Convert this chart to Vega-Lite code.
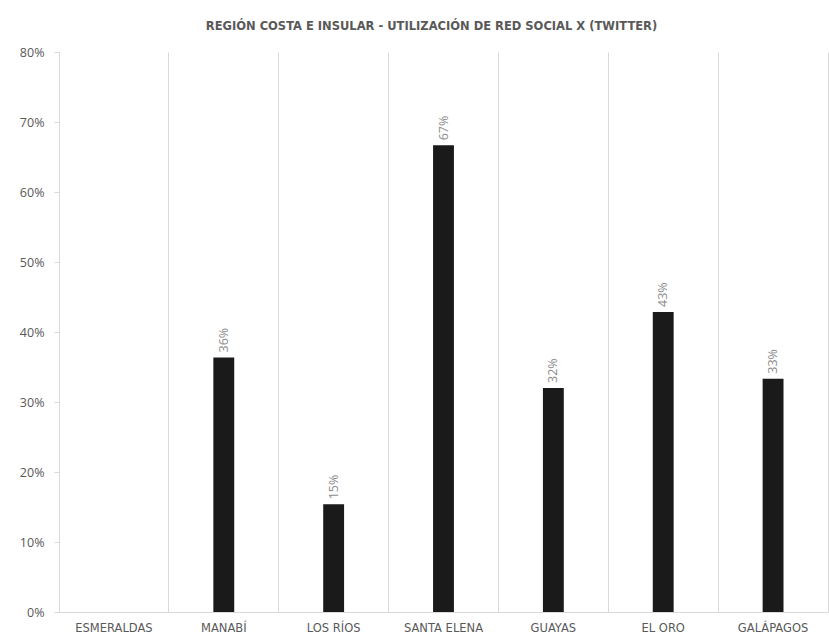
{
  "$schema": "https://vega.github.io/schema/vega-lite/v6.json",
  "autosize": "none",
  "width": 769,
  "height": 560,
  "padding": {"left": 59, "top": 52, "right": 1, "bottom": 27},
  "background": "white",
  "title": {
    "text": "REGIÓN COSTA E INSULAR - UTILIZACIÓN DE RED SOCIAL X (TWITTER)",
    "font": "DejaVu Sans",
    "fontSize": 11.5,
    "fontWeight": "bold",
    "color": "#595959",
    "anchor": "middle",
    "offset": 14,
    "dx": -12
  },
  "data": {
    "values": [
      {"provincia": "ESMERALDAS", "valor": 0},
      {"provincia": "MANABÍ", "valor": 0.3636},
      {"provincia": "LOS RÍOS", "valor": 0.1538},
      {"provincia": "SANTA ELENA", "valor": 0.6667},
      {"provincia": "GUAYAS", "valor": 0.32},
      {"provincia": "EL ORO", "valor": 0.4286},
      {"provincia": "GALÁPAGOS", "valor": 0.3333}
    ]
  },
  "encoding": {
    "x": {
      "field": "provincia",
      "type": "nominal",
      "sort": null,
      "scale": {"paddingInner": 0, "paddingOuter": 0},
      "axis": {
        "title": null,
        "labelAngle": 0,
        "grid": true,
        "bandPosition": 0,
        "gridColor": "#d9d9d9",
        "ticks": false,
        "domainColor": "#d9d9d9",
        "labelColor": "#595959",
        "labelFont": "DejaVu Sans",
        "labelFontSize": 11.5,
        "labelPadding": 10
      }
    }
  },
  "layer": [
    {
      "mark": {"type": "bar", "color": "#1a1a1a", "width": {"band": 0.19}},
      "encoding": {
        "y": {
          "field": "valor",
          "type": "quantitative",
          "scale": {"domain": [0, 0.8]},
          "axis": {
            "orient": "left",
            "title": null,
            "format": ".0%",
            "values": [0, 0.1, 0.2, 0.3, 0.4, 0.5, 0.6, 0.7, 0.8],
            "grid": false,
            "domainColor": "#d9d9d9",
            "tickColor": "#d9d9d9",
            "tickSize": 5,
            "labelColor": "#595959",
            "labelFont": "Open Sans",
            "labelFontSize": 12.5,
            "labelPadding": 10
          }
        }
      }
    },
    {
      "transform": [{"filter": "datum.valor > 0"}],
      "mark": {
        "type": "text",
        "angle": 270,
        "align": "left",
        "baseline": "middle",
        "dx": 5,
        "font": "Open Sans",
        "fontSize": 12.5,
        "color": "#8c8c8c"
      },
      "encoding": {
        "y": {"field": "valor", "type": "quantitative", "scale": {"domain": [0, 0.8]}, "axis": null},
        "text": {"field": "valor", "type": "quantitative", "format": ".0%"}
      }
    },
    {
      "mark": {"type": "rule", "opacity": 0},
      "encoding": {
        "y": {
          "field": "valor",
          "type": "quantitative",
          "scale": {"domain": [0, 0.8]},
          "axis": {
            "orient": "right",
            "title": null,
            "labels": false,
            "ticks": false,
            "grid": false,
            "domainColor": "#d9d9d9"
          }
        }
      }
    }
  ],
  "resolve": {"axis": {"y": "independent"}},
  "config": {"view": {"stroke": null}}
}
